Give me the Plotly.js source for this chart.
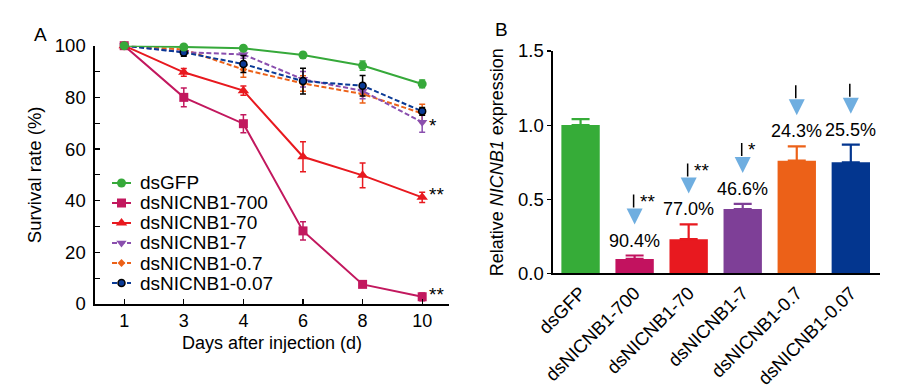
<!DOCTYPE html>
<html><head><meta charset="utf-8">
<script src="https://cdn.plot.ly/plotly-3.0.1.min.js"></script>
<style>html,body{margin:0;padding:0;background:#fff}#chart{width:900px;height:391px}</style>
</head><body><div id="chart"></div>
<script>
// ---------- DATA : panel A (survival) ----------
const days = ['1', '3', '4', '6', '8', '10'];
const seriesNames = ['dsGFP', 'dsNICNB1-700', 'dsNICNB1-70', 'dsNICNB1-7', 'dsNICNB1-0.7', 'dsNICNB1-0.07'];
const survGFP  = [100, 99.5, 99.0, 96.4, 92.3, 85.2];
const surv700  = [100, 80.0, 69.8, 28.3, 7.6, 2.8];
const surv70   = [100, 89.7, 82.6, 57.0, 49.8, 41.3];
const surv7    = [100, 97.5, 96.6, 87.0, 82.5, 70.4];
const surv07   = [100, 98.5, 90.8, 85.4, 81.3, 73.8];
const surv007  = [100, 97.4, 92.9, 86.3, 84.5, 74.6];
const errGFP   = [0, 0.5, 0.8, 1.0, 1.8, 1.5];
const err700   = [0, 3.6, 3.5, 3.5, 1.0, 1.5];
const err70    = [0, 1.5, 1.8, 5.8, 4.8, 2.0];
const err7     = [0, 1.0, 1.5, 3.0, 3.0, 3.9];
const err07    = [0, 1.0, 3.0, 3.0, 3.5, 3.5];
const err007   = [0, 1.5, 3.3, 5.0, 4.0, 1.5];
const sigA     = ['', '**', '**', '*', '', ''];

// ---------- DATA : panel B (expression) ----------
const groups    = ['dsGFP', 'dsNICNB1-700', 'dsNICNB1-70', 'dsNICNB1-7', 'dsNICNB1-0.7', 'dsNICNB1-0.07'];
const expr      = [1.00, 0.097, 0.23, 0.434, 0.76, 0.749];
const exprErr   = [0.04, 0.023, 0.10, 0.034, 0.097, 0.119];
const knockdown = ['', '90.4%', '77.0%', '46.6%', '24.3%', '25.5%'];
const sigB      = ['', '**', '**', '*', '', ''];

// ---------- STYLE ----------
const FONT = 'Liberation Sans, Arial, Helvetica, sans-serif';
const colors   = ['#36A93A', '#C2185E', '#E8191F', '#8A4FAE', '#EC6118', '#0A3A96'];
const barCols  = ['#36AC38', '#C2125F', '#E8191F', '#7E3F97', '#EC6118', '#03368F'];
const symbols  = ['circle', 'square', 'triangle-up', 'triangle-down', 'diamond', 'circle'];
const msizes   = [9, 9, 10, 9, 6, 7];
const dashes   = ['solid', 'solid', 'solid', '5px,2.5px', '5px,2.5px', '5px,2.5px'];
const mlineCol = [null, null, null, null, null, '#000000'];
const errCols  = ['#36A93A', '#C2185E', '#E8191F', '#8A4FAE', '#EC6118', '#000000'];
const sigShift = [0, 2, 3, -3, 0, 0];

const seriesA = [survGFP, surv700, surv70, surv7, surv07, surv007];
const errA = [errGFP, err700, err70, err7, err07, err007];
const lastIdx = days.length - 1;

const traces = [];
const annotations = [];

// Panel A lines (dashed first so solid on top)
const drawOrder = [4, 3, 5, 2, 1, 0];
drawOrder.forEach(i => {
  traces.push({
    type: 'scatter', mode: 'lines+markers', name: seriesNames[i],
    x: days, y: seriesA[i], xaxis: 'x', yaxis: 'y', cliponaxis: false, showlegend: false,
    line: {color: colors[i], width: 2, dash: dashes[i]},
    marker: {symbol: symbols[i], size: msizes[i], color: colors[i],
             line: {color: mlineCol[i] || colors[i], width: mlineCol[i] ? 1.5 : 0}},
    error_y: {type: 'data', array: errA[i], visible: true, color: errCols[i], thickness: 1.5, width: 3}
  });
  if (sigA[i]) {
    // category axis annotations take the category's serial number
    annotations.push({xref: 'x', yref: 'y', x: lastIdx, y: seriesA[i][lastIdx],
      text: sigA[i], showarrow: false, xanchor: 'left', yanchor: 'middle', xshift: 5, yshift: sigShift[i],
      font: {family: FONT, size: 19, color: '#000'}});
  }
});

// Custom legend (axes x3/y3) built from the series names and styles
seriesNames.forEach((nm, i) => {
  traces.push({type: 'scatter', mode: 'lines', x: [0, 1], y: [i, i], xaxis: 'x3', yaxis: 'y3',
    line: {color: colors[i], width: 2, dash: dashes[i]}, showlegend: false, hoverinfo: 'skip', cliponaxis: false});
  traces.push({type: 'scatter', mode: 'markers', x: [0.5], y: [i], xaxis: 'x3', yaxis: 'y3',
    marker: {symbol: symbols[i], size: msizes[i], color: colors[i],
             line: {color: mlineCol[i] || colors[i], width: mlineCol[i] ? 1.5 : 0}},
    showlegend: false, hoverinfo: 'skip', cliponaxis: false});
  annotations.push({xref: 'x3', yref: 'y3', x: 1, y: i, text: nm, showarrow: false,
    xanchor: 'left', yanchor: 'middle', xshift: 7, font: {family: FONT, size: 19, color: '#000'}});
});

// Panel B bars
groups.forEach((g, i) => {
  traces.push({type: 'bar', x: [g], y: [expr[i]], xaxis: 'x2', yaxis: 'y2', width: 0.71,
    marker: {color: barCols[i], line: {width: 0}}, showlegend: false,
    error_y: {type: 'data', symmetric: false, array: [exprErr[i]], arrayminus: [0], visible: true,
              color: barCols[i], thickness: 2.2, width: 9}});
  const top = expr[i] + exprErr[i];
  if (knockdown[i]) {
    annotations.push({xref: 'x2', yref: 'y2', x: g, y: top, text: knockdown[i], showarrow: false,
      yanchor: 'bottom', yshift: 3, font: {family: FONT, size: 18, color: '#000'}});
    // blue arrow head
    annotations.push({xref: 'x2', yref: 'y2', x: g, y: top, text: ' ', showarrow: true,
      ax: 0, ay: -17, yshift: 31, arrowhead: 2, arrowwidth: 2, arrowsize: 1.6,
      arrowcolor: '#6FAEE0', font: {size: 1}});
    // black stem
    annotations.push({xref: 'x2', yref: 'y2', x: g, y: top, text: ' ', showarrow: true,
      ax: 0, ay: -15, yshift: 48, arrowhead: 0, arrowwidth: 1.5,
      arrowcolor: '#000', font: {size: 1}, xshift: -1});
  }
  if (sigB[i]) {
    annotations.push({xref: 'x2', yref: 'y2', x: g, y: top, text: sigB[i], showarrow: false,
      xanchor: 'left', yanchor: 'middle', xshift: 3, yshift: 54, font: {family: FONT, size: 19, color: '#000'}});
  }
});

// Panel letters
annotations.push({xref: 'paper', yref: 'paper', x: 40/900, y: 1 - 35/391, text: 'A', showarrow: false,
  xanchor: 'center', yanchor: 'middle', font: {family: FONT, size: 19, color: '#000'}});
annotations.push({xref: 'paper', yref: 'paper', x: 501/900, y: 1 - 30/391, text: 'B', showarrow: false,
  xanchor: 'center', yanchor: 'middle', font: {family: FONT, size: 19, color: '#000'}});

const layout = {
  width: 900, height: 391, margin: {l: 0, r: 0, t: 0, b: 0},
  paper_bgcolor: '#fff', plot_bgcolor: 'rgba(0,0,0,0)',
  font: {family: FONT, size: 18, color: '#000'},
  showlegend: false, barmode: 'overlay',
  xaxis: {domain: [95/900, 449/900], type: 'category', range: [-0.49, 5.45],
    showline: true, linecolor: '#000', linewidth: 1.6, ticks: 'inside', ticklen: 5, tickwidth: 1.2,
    tickcolor: '#000', showgrid: false, zeroline: false, tickfont: {size: 18},
    title: {text: 'Days after injection (d)', font: {size: 18}, standoff: 6}, anchor: 'y'},
  yaxis: {domain: [(391-304)/391, (391-45.7)/391], range: [0, 100], tickvals: [0, 20, 40, 60, 80, 100],
    showline: true, linecolor: '#000', linewidth: 1.6, ticks: 'inside', ticklen: 5, tickwidth: 1.2,
    tickcolor: '#000', showgrid: false, zeroline: false, tickfont: {size: 18.5}, ticklabelstandoff: 4,
    minor: {dtick: 10, ticks: 'inside', ticklen: 5, tickwidth: 1.2, tickcolor: '#000', showgrid: false},
    title: {text: 'Survival rate (%)', font: {size: 18.5}, standoff: 8}, anchor: 'x'},
  xaxis2: {domain: [553/900, 880/900], type: 'category', range: [-0.51, 5.54],
    categoryorder: 'array', categoryarray: groups, tickangle: -45,
    showline: true, linecolor: '#000', linewidth: 1.6, ticks: '', showgrid: false, zeroline: false,
    tickfont: {size: 18.5}, anchor: 'y2'},
  yaxis2: {domain: [(391-273.3)/391, (391-51)/391], range: [0, 1.5], tickvals: [0, 0.5, 1.0, 1.5],
    tickformat: '.1f', showline: true, linecolor: '#000', linewidth: 1.6, ticks: 'outside', ticklen: 4,
    tickwidth: 1.2, tickcolor: '#000', showgrid: false, zeroline: false, tickfont: {size: 18.5},
    title: {text: 'Relative <i>NICNB1</i> expression', font: {size: 18}, standoff: 9}, anchor: 'x2'},
  xaxis3: {domain: [112/900, 131/900], range: [0, 1], visible: false, fixedrange: true, anchor: 'y3'},
  yaxis3: {domain: [(391-293)/391, (391-173)/391], range: [5.5, -0.5], visible: false, fixedrange: true, anchor: 'x3'},
  annotations: annotations
};

Plotly.newPlot('chart', traces, layout, {displayModeBar: false, staticPlot: true});
</script>
</body></html>
